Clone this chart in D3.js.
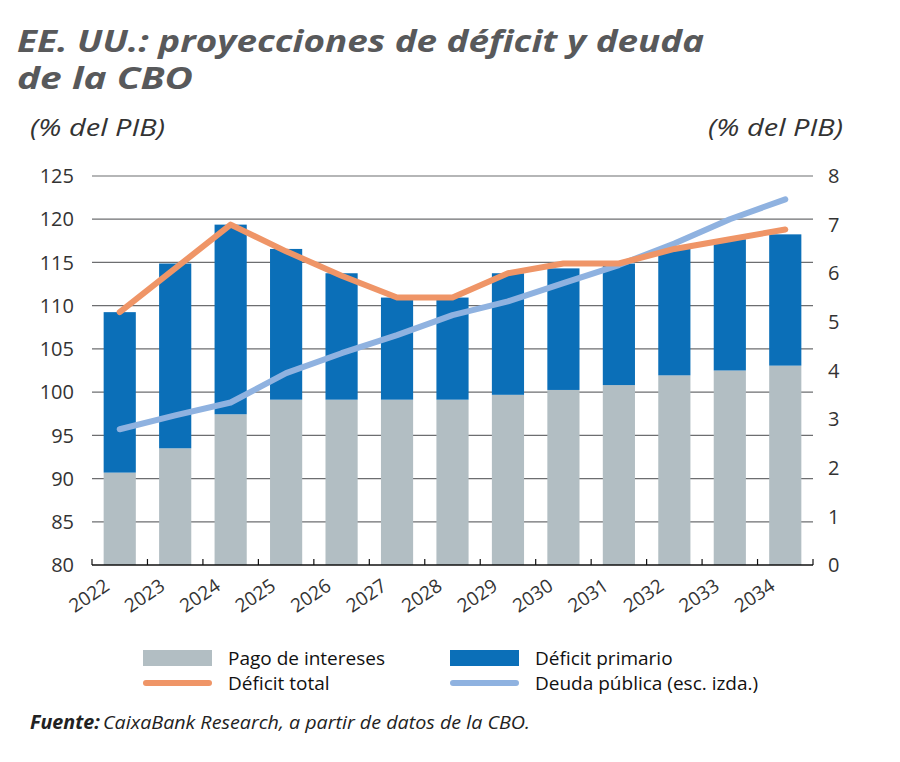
<!DOCTYPE html>
<html><head><meta charset="utf-8">
<script src="https://cdn.jsdelivr.net/npm/d3@7"></script>
<style>
body{margin:0;background:#fff;}
svg{display:block;}
text{font-family:"Open Sans","Noto Sans",sans-serif;}
</style></head>
<body><svg id="c" width="900" height="762"></svg>
<script>
const years = ["2022","2023","2024","2025","2026","2027","2028","2029","2030","2031","2032","2033","2034"];
const interestPayments = [1.9,2.4,3.1,3.4,3.4,3.4,3.4,3.5,3.6,3.7,3.9,4.0,4.1];
const totalDeficitBars = [5.2,6.2,7.0,6.5,6.0,5.5,5.5,6.0,6.1,6.2,6.5,6.7,6.8];
const primaryDeficit = totalDeficitBars.map((t,i)=>+(t-interestPayments[i]).toFixed(2));
const totalDeficit = [5.2,6.1,7.0,6.45,5.95,5.5,5.5,6.0,6.2,6.2,6.5,6.7,6.9];
const publicDebt = [95.7,97.3,98.8,102.2,104.5,106.6,108.9,110.5,112.6,114.7,117.2,120.0,122.3];
const leftTicks = [80,85,90,95,100,105,110,115,120,125];
const rightTicks = [0,1,2,3,4,5,6,7,8];

const svg = d3.select("#c");
const L=92, R=813, T=176, B=565;
const x = d3.scaleBand().domain(years).range([L,R]).paddingInner(0.42).paddingOuter(0.21);
const yL = d3.scaleLinear().domain([80,125]).range([B,T]);
const yR = d3.scaleLinear().domain([0,8]).range([B,T]);

// title
const title = svg.append("g").attr("fill","#58595b").style("font-weight","700").style("font-style","italic").style("font-size","30px")
  .style("font-family","'Liberation Sans',Arial,sans-serif");
title.append("text").attr("x",17).attr("y",52).attr("textLength",687).attr("lengthAdjust","spacingAndGlyphs").text("EE. UU.: proyecciones de déficit y deuda");
title.append("text").attr("x",17).attr("y",89).attr("textLength",176).attr("lengthAdjust","spacingAndGlyphs").text("de la CBO");

const sub = svg.append("g").attr("fill","#333").style("font-style","italic").style("font-size","24px");
sub.append("text").attr("x",30).attr("y",136).attr("textLength",135).attr("lengthAdjust","spacingAndGlyphs").text("(% del PIB)");
sub.append("text").attr("x",843).attr("y",136).attr("text-anchor","end").attr("textLength",135).attr("lengthAdjust","spacingAndGlyphs").text("(% del PIB)");

// gridlines
svg.append("g").selectAll("line").data(leftTicks.slice(1)).join("line")
  .attr("x1",L).attr("x2",R).attr("y1",d=>yL(d)).attr("y2",d=>yL(d))
  .attr("stroke","#6d6e70").attr("stroke-width",1.2);

// tick labels
svg.append("g").selectAll("text").data(leftTicks).join("text")
  .attr("x",74).attr("y",d=>yL(d)).attr("dy","0.36em").attr("text-anchor","end")
  .attr("fill","#333").style("font-size","20px").text(d=>d);
svg.append("g").selectAll("text").data(rightTicks).join("text")
  .attr("x",828).attr("y",d=>yR(d)).attr("dy","0.36em").attr("text-anchor","start")
  .attr("fill","#333").style("font-size","20px").text(d=>d);

// bars
const bars = svg.append("g");
bars.selectAll("rect.int").data(years).join("rect").attr("class","int")
  .attr("x",d=>x(d)).attr("width",x.bandwidth())
  .attr("y",(d,i)=>yR(interestPayments[i])).attr("height",(d,i)=>yR(0)-yR(interestPayments[i]))
  .attr("fill","#b2bec3");
bars.selectAll("rect.prim").data(years).join("rect").attr("class","prim")
  .attr("x",d=>x(d)).attr("width",x.bandwidth())
  .attr("y",(d,i)=>yR(interestPayments[i]+primaryDeficit[i])).attr("height",(d,i)=>yR(interestPayments[i])-yR(interestPayments[i]+primaryDeficit[i]))
  .attr("fill","#0b6fb8");

// x axis
const step = x.step();
const axisG = svg.append("g");
axisG.append("line").attr("x1",L).attr("x2",R).attr("y1",B).attr("y2",B).attr("stroke","#111").attr("stroke-width",1.6);
axisG.selectAll("line.tk").data(d3.range(years.length+1)).join("line").attr("class","tk")
  .attr("x1",i=>L+i*step).attr("x2",i=>L+i*step).attr("y1",B).attr("y2",B-6)
  .attr("stroke","#111").attr("stroke-width",1.2);
axisG.selectAll("text").data(years).join("text")
  .attr("transform",d=>`translate(${x(d)+x.bandwidth()/2-9},${B+24}) rotate(-34)`)
  .attr("text-anchor","end").attr("fill","#333").style("font-size","19px").text(d=>d);

// lines
const lineDebt = d3.line().x((d,i)=>x(years[i])+x.bandwidth()/2).y(d=>yL(d));
const lineDef = d3.line().x((d,i)=>x(years[i])+x.bandwidth()/2).y(d=>yR(d));
svg.append("path").attr("d",lineDebt(publicDebt)).attr("fill","none").attr("stroke","#8fb2e0").attr("stroke-width",6).attr("stroke-linecap","round").attr("stroke-linejoin","round");
svg.append("path").attr("d",lineDef(totalDeficit)).attr("fill","none").attr("stroke","#ef9567").attr("stroke-width",6).attr("stroke-linecap","round").attr("stroke-linejoin","round");

// legend
const leg = svg.append("g").style("font-size","19px").attr("fill","#111");
const legItems = [
  {t:"Pago de intereses",type:"rect",c:"#b2bec3",x:143,y:658},
  {t:"Déficit primario",type:"rect",c:"#0b6fb8",x:450,y:658},
  {t:"Déficit total",type:"line",c:"#ef9567",x:143,y:683},
  {t:"Deuda pública (esc. izda.)",type:"line",c:"#8fb2e0",x:450,y:683}
];
legItems.forEach(it=>{
  if(it.type==="rect") leg.append("rect").attr("x",it.x).attr("y",it.y-8).attr("width",69).attr("height",16).attr("fill",it.c);
  else leg.append("line").attr("x1",it.x+3).attr("x2",it.x+66).attr("y1",it.y).attr("y2",it.y).attr("stroke",it.c).attr("stroke-width",6).attr("stroke-linecap","round");
  leg.append("text").attr("x",it.x+85).attr("y",it.y).attr("dy","0.35em").text(it.t);
});

// source
const src = svg.append("text").attr("x",30).attr("y",729).attr("fill","#222").style("font-size","19px").style("font-style","italic")
  .attr("textLength",500).attr("lengthAdjust","spacingAndGlyphs");
src.append("tspan").style("font-weight","700").text("Fuente:");
src.append("tspan").attr("dx",3).text("CaixaBank Research, a partir de datos de la CBO.");
</script></body></html>
